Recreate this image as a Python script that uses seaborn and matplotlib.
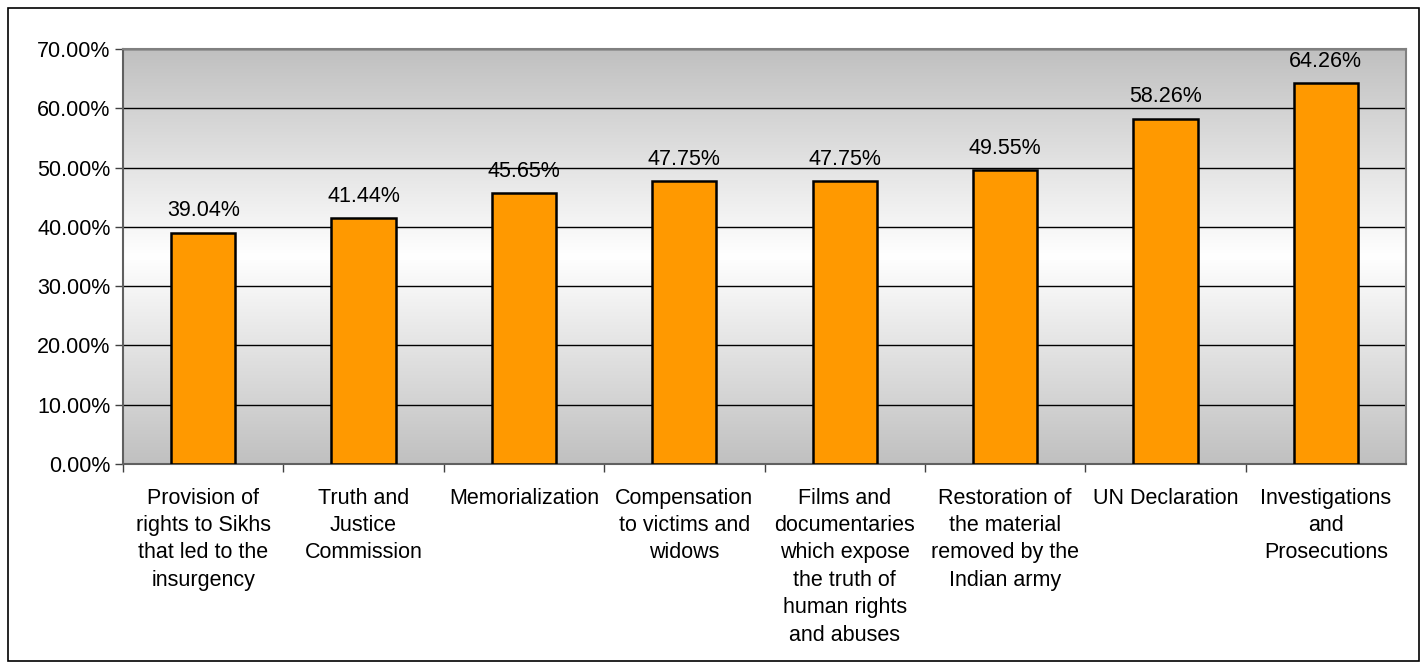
"""
plot.py
Bar chart of support for each remedy, Excel-style grey gradient plot area.
"""

import numpy as np
import pandas as pd
import seaborn as sns
import matplotlib
matplotlib.use("Agg")
import matplotlib.pyplot as plt
from matplotlib.colors import LinearSegmentedColormap
from matplotlib.ticker import FuncFormatter, MultipleLocator
from matplotlib.patches import Rectangle

# --------------------------------------------------------------------------- #
# Data
# --------------------------------------------------------------------------- #
categories = [
    "Provision of\nrights to Sikhs\nthat led to the\ninsurgency",
    "Truth and\nJustice\nCommission",
    "Memorialization",
    "Compensation\nto victims and\nwidows",
    "Films and\ndocumentaries\nwhich expose\nthe truth of\nhuman rights\nand abuses",
    "Restoration of\nthe material\nremoved by the\nIndian army",
    "UN Declaration",
    "Investigations\nand\nProsecutions",
]
values = [39.04, 41.44, 45.65, 47.75, 47.75, 49.55, 58.26, 64.26]

BAR_COLOR = "#FF9900"
FS = 15.5

# --------------------------------------------------------------------------- #
# Style
# --------------------------------------------------------------------------- #
sns.set_style("white")
plt.rcParams["font.family"] = ["Liberation Sans", "DejaVu Sans"]
plt.rcParams["text.color"] = "black"
plt.rcParams["xtick.color"] = "black"
plt.rcParams["ytick.color"] = "black"

df = pd.DataFrame({"category": categories, "value": values})

fig = plt.figure(figsize=(14.27, 6.69), dpi=100)
fig.patch.set_facecolor("white")
ax = fig.add_axes([123 / 1427, 1 - 464 / 669, (1406 - 123) / 1427, (464 - 49) / 669])

# grey -> white -> grey gradient behind the bars
grad_cmap = LinearSegmentedColormap.from_list(
    "grad", ["#C0C0C0", "#FFFFFF", "#C0C0C0"])
grad = np.linspace(0, 1, 256).reshape(-1, 1)
ax.imshow(grad, cmap=grad_cmap, extent=[0, 1, 0, 1], transform=ax.transAxes,
          aspect="auto", zorder=0, interpolation="bicubic")

sns.barplot(data=df, x="category", y="value", color=BAR_COLOR,
            edgecolor="black", linewidth=1.8, width=0.40, saturation=1,
            ax=ax, zorder=3)

ax.set_xlim(-0.5, len(categories) - 0.5)
ax.set_ylim(0, 70)
ax.yaxis.set_major_locator(MultipleLocator(10))
ax.yaxis.set_major_formatter(FuncFormatter(lambda v, p: f"{v:.2f}%"))
ax.grid(axis="y", color="black", linewidth=1, zorder=1)
ax.set_axisbelow(True)
for line in ax.get_ygridlines():
    line.set_zorder(1)

# category ticks sit between bars
ax.set_xticks(np.arange(len(categories)) - 0.5, minor=False)
ax.set_xticklabels([])
ax.set_xticks(np.arange(len(categories)), minor=True)
ax.set_xticklabels(categories, minor=True, fontsize=FS, linespacing=1.40, va="top")
ax.tick_params(axis="x", which="minor", length=0, pad=17)
ax.tick_params(axis="x", which="major", length=6, width=1, color="#404040",
               direction="out")
ax.tick_params(axis="y", length=6, width=1, color="#404040", direction="out",
               labelsize=FS, pad=3, labelcolor="black")
ax.xaxis.set_ticks_position("bottom")
ax.yaxis.set_ticks_position("left")
ax.set_xlabel("")
ax.set_ylabel("")

for side in ["top", "right", "left", "bottom"]:
    ax.spines[side].set_color("#808080")
    ax.spines[side].set_linewidth(1.5)
ax.spines["left"].set_color("#606060")
ax.spines["bottom"].set_color("#606060")

# value labels
ax.bar_label(ax.containers[0], labels=[f"{v:.2f}%" for v in values],
             padding=8, fontsize=FS, color="black")

# outer chart border
fig.patches.append(Rectangle((8 / 1427, 8 / 669), 1 - 16 / 1427, 1 - 16 / 669,
                             transform=fig.transFigure, fill=False,
                             edgecolor="black", linewidth=1.2))

fig.savefig("out.png", dpi=100, facecolor="white")
plt.close(fig)
